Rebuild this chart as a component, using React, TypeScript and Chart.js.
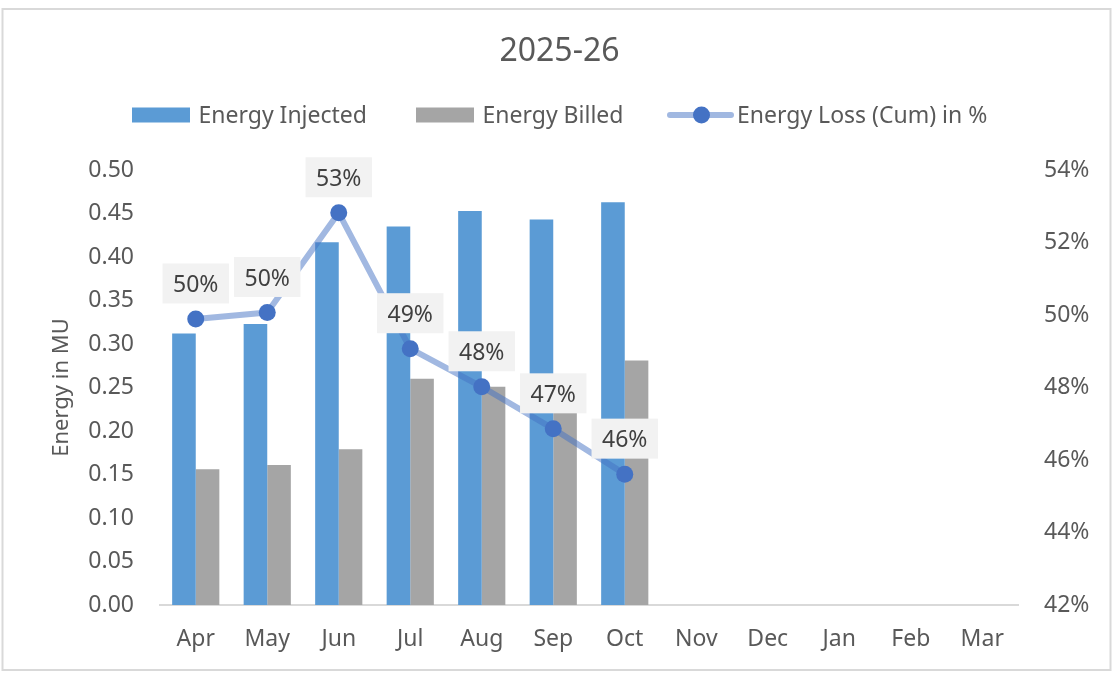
import React, { useEffect, useRef } from "react";
import { Chart, registerables } from "chart.js";

Chart.register(...registerables);

const chartTitle = "2025-26";
const months = ["Apr", "May", "Jun", "Jul", "Aug", "Sep", "Oct", "Nov", "Dec", "Jan", "Feb", "Mar"];
const energyInjected: (number | null)[] = [0.312, 0.323, 0.417, 0.435, 0.453, 0.443, 0.463, null, null, null, null, null];
const energyBilled: (number | null)[] = [0.156, 0.161, 0.179, 0.26, 0.251, 0.235, 0.281, null, null, null, null, null];
const energyLossPct: (number | null)[] = [49.89, 50.07, 52.82, 49.07, 48.02, 46.86, 45.61, null, null, null, null, null];
const seriesNames = ["Energy Injected", "Energy Billed", "Energy Loss (Cum) in %"];
const leftAxisTitle = "Energy in MU";

const FONT = "'Noto Sans', 'Open Sans', sans-serif";
const TEXT = "#595959";

const borderPlugin = {
  id: "outerBorder",
  beforeDraw(chart: any) {
    const ctx = chart.ctx;
    ctx.save();
    ctx.fillStyle = "#ffffff";
    ctx.fillRect(0, 0, chart.width, chart.height);
    ctx.strokeStyle = "#D9D9D9";
    ctx.lineWidth = 2;
    ctx.strokeRect(2.5, 9, 1108, 661);
    ctx.restore();
  },
};

const legendPlugin = {
  id: "customLegend",
  afterDraw(chart: any) {
    const ctx = chart.ctx;
    const y = 115;
    const starts = [132, 416, 668];
    ctx.save();
    ctx.font = `23px ${FONT}`;
    ctx.textBaseline = "middle";
    ctx.textAlign = "left";
    chart.data.datasets.forEach((ds: any, i: number) => {
      const x = starts[i];
      let textX: number;
      if (ds.type === "line") {
        ctx.strokeStyle = ds.borderColor;
        ctx.lineWidth = ds.borderWidth;
        ctx.lineCap = "round";
        ctx.beginPath();
        ctx.moveTo(x + 2, y);
        ctx.lineTo(x + 63, y);
        ctx.stroke();
        ctx.fillStyle = ds.pointBackgroundColor;
        ctx.beginPath();
        ctx.arc(x + 33.5, y, ds.pointRadius, 0, Math.PI * 2);
        ctx.fill();
        textX = x + 69;
      } else {
        ctx.fillStyle = ds.backgroundColor;
        ctx.fillRect(x, y - 7.5, 58, 15);
        textX = x + 66.5;
      }
      ctx.fillStyle = TEXT;
      ctx.fillText(ds.label, textX, y + 1);
    });
    ctx.restore();
  },
};

const dataLabelPlugin = {
  id: "lineLabels",
  afterDatasetsDraw(chart: any) {
    const ctx = chart.ctx;
    const idx = chart.data.datasets.findIndex((d: any) => d.type === "line");
    if (idx < 0) return;
    const meta = chart.getDatasetMeta(idx);
    const values = chart.data.datasets[idx].data;
    ctx.save();
    ctx.font = `23px ${FONT}`;
    ctx.textBaseline = "middle";
    ctx.textAlign = "center";
    meta.data.forEach((pt: any, i: number) => {
      const v = values[i];
      if (v === null || v === undefined) return;
      const label = `${Math.round(v)}%`;
      const w = ctx.measureText(label).width + 21;
      const h = 40;
      const cx = pt.x;
      const cy = pt.y - 35.5;
      ctx.fillStyle = "#F2F2F2";
      ctx.fillRect(cx - w / 2, cy - h / 2, w, h);
      ctx.fillStyle = "#404040";
      ctx.fillText(label, cx, cy + 2);
    });
    ctx.restore();
  },
};

export default function App() {
  const canvasRef = useRef<HTMLCanvasElement | null>(null);

  useEffect(() => {
    document.body.style.margin = "0";
    const canvas = canvasRef.current;
    if (!canvas) return;
    const chart = new Chart(canvas, {
      type: "bar",
      data: {
        labels: months,
        datasets: [
          {
            type: "bar",
            label: seriesNames[0],
            data: energyInjected,
            backgroundColor: "#5B9BD5",
            borderWidth: 0,
            yAxisID: "y",
            order: 1,
            categoryPercentage: 0.66,
            barPercentage: 1,
          },
          {
            type: "bar",
            label: seriesNames[1],
            data: energyBilled,
            backgroundColor: "#A5A5A5",
            borderWidth: 0,
            yAxisID: "y",
            order: 1,
            categoryPercentage: 0.66,
            barPercentage: 1,
          },
          {
            type: "line",
            label: seriesNames[2],
            data: energyLossPct,
            borderColor: "rgba(68,114,196,0.5)",
            borderWidth: 6,
            borderJoinStyle: "round",
            borderCapStyle: "round",
            pointBackgroundColor: "#4472C4",
            pointBorderColor: "#4472C4",
            pointBorderWidth: 0,
            pointRadius: 8.5,
            tension: 0,
            yAxisID: "y1",
            order: 0,
          },
        ] as any,
      },
      options: {
        responsive: false,
        animation: false,
        layout: { padding: 0 },
        plugins: {
          legend: { display: false },
          tooltip: { enabled: false },
          title: {
            display: true,
            text: chartTitle,
            color: TEXT,
            font: { family: FONT, size: 32, weight: "normal" },
            padding: { top: 33, bottom: 98.6 },
          },
        },
        scales: {
          x: {
            offset: true,
            grid: { display: false, drawTicks: false },
            border: { display: true, color: "#D9D9D9", width: 2 },
            ticks: {
              color: TEXT,
              font: { family: FONT, size: 23 },
              padding: 21,
              maxRotation: 0,
              autoSkip: false,
            },
            afterFit: (s: any) => {
              s.height = 68;
            },
          },
          y: {
            position: "left",
            min: 0,
            max: 0.5,
            grid: { display: false, drawTicks: false },
            border: { display: false },
            ticks: {
              stepSize: 0.05,
              color: TEXT,
              font: { family: FONT, size: 23 },
              padding: 26,
              callback: (v: any) => Number(v).toFixed(2),
            },
            title: {
              display: true,
              text: leftAxisTitle,
              color: TEXT,
              font: { family: FONT, size: 22 },
              padding: { top: 49, bottom: 0 },
            },
            afterFit: (s: any) => {
              s.width = 160;
            },
          },
          y1: {
            position: "right",
            min: 42,
            max: 54,
            grid: { display: false, drawTicks: false },
            border: { display: false },
            ticks: {
              stepSize: 2,
              color: TEXT,
              font: { family: FONT, size: 23 },
              padding: 26,
              callback: (v: any) => `${v}%`,
            },
            afterFit: (s: any) => {
              s.width = 101;
            },
          },
        },
      } as any,
      plugins: [borderPlugin, legendPlugin, dataLabelPlugin],
    });
    return () => chart.destroy();
  }, []);

  return (
    <div style={{ position: "relative", width: 1119, height: 673 }}>
      <canvas ref={canvasRef} width={1119} height={673} />
    </div>
  );
}
